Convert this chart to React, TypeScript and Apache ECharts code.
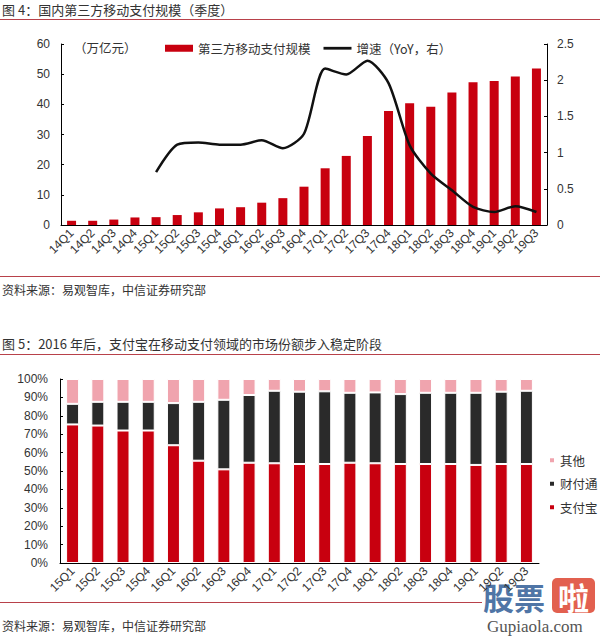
import React, { useEffect, useRef } from "react";
import * as echarts from "echarts";

const quarters1 = ["14Q1","14Q2","14Q3","14Q4","15Q1","15Q2","15Q3","15Q4","16Q1","16Q2","16Q3","16Q4","17Q1","17Q2","17Q3","17Q4","18Q1","18Q2","18Q3","18Q4","19Q1","19Q2","19Q3"];
const scaleValues = [1.4,1.4,1.8,2.5,2.6,3.3,4.2,5.5,5.9,7.4,8.9,12.7,18.8,22.9,29.5,37.8,40.4,39.2,43.9,47.3,47.7,49.2,51.9];
const yoyValues: (number | null)[] = [null,null,null,null,0.73,1.11,1.14,1.11,1.11,1.17,1.06,1.26,2.16,2.08,2.27,1.96,1.10,0.71,0.48,0.25,0.18,0.26,0.18];
const leftTicks1 = { min: 0, max: 60, interval: 10 };
const rightTicks1 = { min: 0, max: 2.5, interval: 0.5 };

const quarters2 = ["15Q1","15Q2","15Q3","15Q4","16Q1","16Q2","16Q3","16Q4","17Q1","17Q2","17Q3","17Q4","18Q1","18Q2","18Q3","18Q4","19Q1","19Q2","19Q3"];
const alipay = [75.3,74.7,72.0,72.0,64.0,55.6,50.9,54.5,54.2,53.8,53.8,54.5,54.2,53.8,53.8,53.8,53.3,53.8,53.8];
const tenpay = [11.2,12.9,15.6,15.6,22.9,32.0,37.8,36.8,39.4,39.3,39.5,38.0,38.5,38.0,38.7,38.7,39.2,39.3,39.8];
const others = [13.5,12.4,12.4,12.4,13.1,12.4,11.3,8.7,6.4,6.9,6.7,7.5,7.3,8.2,7.5,7.5,7.5,6.9,6.4];

const FONT = "'Liberation Sans', Arial, 'Noto Sans CJK SC', sans-serif";
const CJK = "'Noto Sans CJK SC', 'Liberation Sans', sans-serif";
const RED = "#c8000f";
const BLACK = "#2a2a2a";
const PINK = "#f0a4ae";
const RULE = "#b8414a";
const TXT = "#333";

export default function App() {
  const ref = useRef<HTMLDivElement>(null);
  useEffect(() => {
    if (!ref.current) return;
    const chart = echarts.init(ref.current, undefined, { renderer: "svg" });
    const axisLine = { show: true, lineStyle: { color: "#000", width: 1 } };
    const option: any = {
      animation: false,
      backgroundColor: "#fff",
      textStyle: { fontFamily: FONT },
      grid: [
        { left: 61, right: 53, top: 44, height: 181, containLabel: false },
        { left: 60, right: 61, top: 379, height: 184, containLabel: false },
      ],
      legend: [
        {
          left: 160, top: 37, itemWidth: 28, itemHeight: 7, itemGap: 13,
          data: [
            { name: "第三方移动支付规模", icon: "rect" },
            { name: "增速（YoY，右）", icon: "path://M0 0H30V3H0Z" },
          ],
          textStyle: { fontFamily: CJK, fontSize: 12.5, color: TXT },
        },
        {
          orient: "vertical", left: 543, top: 449, itemWidth: 6, itemHeight: 6, itemGap: 11,
          icon: "rect",
          data: ["其他", "财付通", "支付宝"],
          textStyle: { fontFamily: CJK, fontSize: 12.5, color: TXT },
        },
      ],
      xAxis: [
        {
          type: "category", gridIndex: 0, data: quarters1, axisLine,
          axisTick: { show: false },
          axisLabel: { rotate: 45, fontSize: 12, color: TXT, margin: 6, interval: 0 },
        },
        {
          type: "category", gridIndex: 1, data: quarters2, axisLine,
          axisTick: { show: false },
          axisLabel: { rotate: 45, fontSize: 12, color: TXT, margin: 6, interval: 0 },
        },
      ],
      yAxis: [
        {
          type: "value", gridIndex: 0, ...leftTicks1, axisLine,
          axisTick: { show: true, inside: true, length: 3, lineStyle: { color: "#000" } },
          splitLine: { show: false },
          axisLabel: { fontSize: 12, color: TXT, margin: 11 },
        },
        {
          type: "value", gridIndex: 0, position: "right", ...rightTicks1, axisLine,
          axisTick: { show: true, inside: true, length: 3, lineStyle: { color: "#000" } },
          splitLine: { show: false },
          axisLabel: { fontSize: 12, color: TXT, margin: 10 },
        },
        {
          type: "value", gridIndex: 1, min: 0, max: 100, interval: 10, axisLine,
          axisTick: { show: true, inside: true, length: 3, lineStyle: { color: "#000" } },
          splitLine: { show: false },
          axisLabel: { fontSize: 12, color: TXT, margin: 12, formatter: "{value}%" },
        },
      ],
      series: [
        {
          name: "第三方移动支付规模", type: "bar", xAxisIndex: 0, yAxisIndex: 0,
          data: scaleValues, barWidth: 9, itemStyle: { color: RED },
        },
        {
          name: "增速（YoY，右）", type: "line", xAxisIndex: 0, yAxisIndex: 1,
          data: yoyValues, symbol: "none", smooth: 0.25, connectNulls: false,
          lineStyle: { color: "#111", width: 2.5 }, itemStyle: { color: "#111" },
        },
        {
          name: "支付宝", type: "bar", stack: "share", xAxisIndex: 1, yAxisIndex: 2,
          data: alipay, barWidth: 13,
          itemStyle: { color: RED, borderColor: "#fff", borderWidth: 1 },
        },
        {
          name: "财付通", type: "bar", stack: "share", xAxisIndex: 1, yAxisIndex: 2,
          data: tenpay, barWidth: 13,
          itemStyle: { color: BLACK, borderColor: "#fff", borderWidth: 1 },
        },
        {
          name: "其他", type: "bar", stack: "share", xAxisIndex: 1, yAxisIndex: 2,
          data: others, barWidth: 13,
          itemStyle: { color: PINK, borderColor: "#fff", borderWidth: 1 },
        },
      ],
      graphic: [
        { type: "text", left: 2, top: 3, style: { text: "图 4：国内第三方移动支付规模（季度）", fontFamily: CJK, fontSize: 13, fill: TXT } },
        { type: "line", shape: { x1: 0, y1: 19.5, x2: 600, y2: 19.5 }, style: { stroke: RULE, lineWidth: 1 } },
        { type: "text", left: 74, top: 41, style: { text: "（万亿元）", fontFamily: CJK, fontSize: 12.5, fill: TXT } },
        { type: "line", shape: { x1: 0, y1: 276.5, x2: 600, y2: 276.5 }, style: { stroke: RULE, lineWidth: 1 } },
        { type: "text", left: 2, top: 283, style: { text: "资料来源：易观智库，中信证券研究部", fontFamily: CJK, fontSize: 12, fill: TXT } },
        { type: "text", left: 2, top: 337, style: { text: "图 5：2016 年后，支付宝在移动支付领域的市场份额步入稳定阶段", fontFamily: CJK, fontSize: 13, fill: TXT } },
        { type: "line", shape: { x1: 0, y1: 354.5, x2: 600, y2: 354.5 }, style: { stroke: RULE, lineWidth: 1 } },
        { type: "line", shape: { x1: 0, y1: 602.5, x2: 600, y2: 602.5 }, style: { stroke: RULE, lineWidth: 1 } },
        { type: "text", left: 2, top: 619, style: { text: "资料来源：易观智库，中信证券研究部", fontFamily: CJK, fontSize: 12, fill: TXT } },
        { type: "rect", shape: { x: 482, y: 576, width: 118, height: 60 }, style: { fill: "#fff" } },
        { type: "text", x: 483, y: 596, style: { text: "股票", fontFamily: CJK, fontSize: 31, fontWeight: "bold", fill: "#4f75a6", verticalAlign: "middle", lineHeight: 34 } },
        { type: "rect", shape: { x: 552, y: 578, width: 43, height: 35, r: 5 }, style: { fill: "#e2604f" } },
        { type: "text", x: 558, y: 596, style: { text: "啦", fontFamily: CJK, fontSize: 31, fontWeight: "bold", fill: "#fff", verticalAlign: "middle", lineHeight: 34 } },
        { type: "text", x: 487, y: 626, style: { text: "Gupiaola.com", fontFamily: "'Liberation Serif', serif", fontSize: 17, fill: "#555", verticalAlign: "middle", lineHeight: 18 } },
      ],
    };
    chart.setOption(option);
    return () => chart.dispose();
  }, []);
  return <div ref={ref} style={{ position: "fixed", left: 0, top: 0, width: 600, height: 636, background: "#fff" }} />;
}
